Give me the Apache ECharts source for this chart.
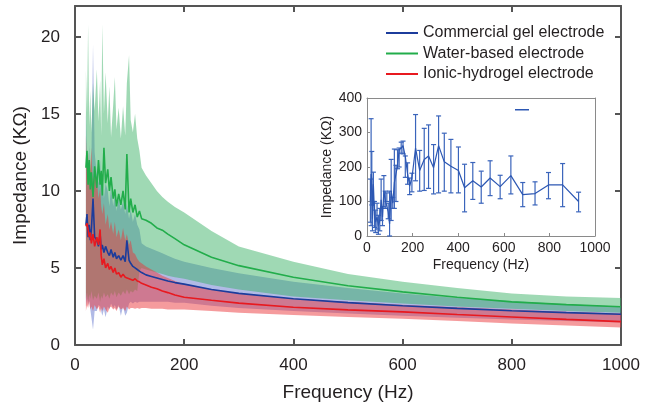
<!DOCTYPE html>
<html>
<head>
<meta charset="utf-8">
<script src="https://cdn.jsdelivr.net/npm/echarts@6/dist/echarts.min.js"></script>
<style>
  html, body { margin: 0; padding: 0; background: #fff; }
  #chart { width: 648px; height: 407px; }
</style>
</head>
<body>
<div id="chart"></div>
<script>
// main plot: frequency (Hz) and impedance (kOhm) bands, mean and upper/lower edge
const freq = [20, 22, 24, 26, 28, 30, 33, 36, 40, 43, 46, 48, 50, 53, 56, 60, 63, 66, 70, 73, 76, 80, 84, 88, 92, 95, 99, 102, 106, 110, 114, 118, 122, 130, 140, 150, 160, 170, 183, 200, 250, 300, 400, 500, 600, 700, 800, 900, 1000];

const waterHi = [17.8, 15.0, 20.8, 14.2, 16.5, 13.8, 17.0, 15.2, 17.9, 14.5, 17.2, 13.6, 20.8, 15.0, 17.7, 14.4, 16.8, 13.5, 15.6, 17.4, 14.0, 15.4, 13.4, 15.5, 13.6, 17.0, 18.8, 14.6, 13.8, 15.0, 13.4, 12.6, 11.5, 11.0, 10.5, 10.0, 9.6, 9.3, 8.95, 8.6, 7.4, 6.4, 5.4, 4.6, 4.1, 3.7, 3.35, 3.15, 3.05];
const waterMid = [11.5, 12.6, 10.4, 12.0, 10.1, 11.2, 9.6, 11.6, 10.2, 12.0, 10.4, 11.3, 9.7, 12.8, 10.5, 11.4, 10.0, 10.9, 9.5, 10.1, 9.0, 9.8, 9.1, 10.0, 8.8, 12.4, 8.6, 9.5, 8.6, 9.1, 8.3, 8.7, 8.2, 8.1, 7.9, 7.6, 7.45, 7.2, 6.9, 6.5, 5.7, 5.15, 4.4, 3.85, 3.45, 3.1, 2.8, 2.62, 2.48];
const waterLo = [3.0, 3.4, 2.8, 3.3, 3.0, 3.5, 2.9, 3.2, 3.0, 3.4, 2.8, 3.2, 3.0, 3.4, 3.1, 3.3, 3.0, 3.4, 3.2, 3.5, 3.1, 3.4, 3.2, 3.5, 3.3, 3.6, 3.3, 3.5, 3.4, 3.6, 3.5, 4.8, 5.0, 4.9, 4.8, 4.7, 4.6, 4.5, 4.4, 4.3, 3.9, 3.6, 3.15, 2.9, 2.7, 2.5, 2.35, 2.2, 2.1];

const gelHi = [15.0, 12.0, 11.0, 13.0, 10.5, 12.0, 19.5, 12.5, 11.0, 10.5, 12.0, 10.0, 11.0, 9.5, 10.5, 10.0, 9.0, 10.2, 9.0, 9.8, 8.7, 9.5, 8.8, 9.3, 8.5, 9.2, 8.2, 8.8, 8.0, 8.5, 7.8, 7.5, 6.6, 6.4, 6.25, 6.1, 5.95, 5.8, 5.6, 5.4, 5.0, 4.65, 4.1, 3.7, 3.35, 3.05, 2.85, 2.65, 2.5];
const gelMid = [7.8, 8.5, 7.0, 7.8, 6.8, 7.5, 9.5, 7.0, 6.8, 6.4, 7.2, 6.2, 6.5, 6.0, 6.4, 6.0, 5.8, 6.2, 5.7, 6.0, 5.6, 5.8, 5.5, 5.8, 5.4, 6.8, 5.5, 5.3, 5.1, 5.0, 4.9, 4.8, 4.7, 4.55, 4.45, 4.35, 4.25, 4.15, 4.05, 3.95, 3.6, 3.35, 3.0, 2.75, 2.55, 2.38, 2.22, 2.1, 2.0];
const gelLo = [2.5, 3.0, 2.6, 2.9, 2.3, 1.8, 1.0, 2.2, 2.2, 2.6, 2.5, 2.2, 1.9, 2.3, 1.8, 2.5, 2.3, 2.7, 2.4, 2.6, 2.3, 2.6, 1.9, 2.5, 1.9, 2.1, 2.7, 2.8, 2.7, 2.8, 2.75, 2.8, 2.8, 2.8, 2.8, 2.8, 2.8, 2.8, 2.75, 2.75, 2.55, 2.4, 2.2, 2.05, 1.9, 1.77, 1.65, 1.55, 1.46];

const ionicHi = [13.6, 11.0, 12.5, 10.5, 11.5, 12.8, 10.0, 11.2, 10.8, 9.5, 10.2, 9.0, 8.5, 9.2, 7.8, 8.5, 7.5, 8.0, 7.2, 8.0, 7.0, 7.5, 6.8, 7.6, 6.8, 7.2, 6.5, 6.8, 6.0, 5.9, 5.6, 5.4, 5.3, 5.1, 4.9, 4.7, 4.5, 4.35, 4.15, 3.95, 3.6, 3.35, 3.0, 2.8, 2.62, 2.45, 2.3, 2.15, 2.05];
const ionicMid = [7.7, 7.9, 7.5, 7.0, 7.3, 6.6, 7.2, 6.4, 7.0, 6.5, 7.5, 5.8, 5.2, 5.6, 5.0, 5.3, 4.9, 5.1, 4.7, 5.0, 4.6, 4.7, 4.4, 4.6, 4.4, 4.5, 4.3, 4.35, 4.2, 4.3, 4.15, 4.1, 4.0, 3.9, 3.75, 3.65, 3.5, 3.4, 3.25, 3.1, 2.9, 2.72, 2.45, 2.28, 2.15, 1.98, 1.82, 1.66, 1.52];
const ionicLo = [2.2, 2.6, 2.4, 2.8, 2.3, 2.5, 2.2, 2.6, 2.3, 2.5, 2.1, 2.4, 2.2, 2.5, 2.3, 2.1, 2.4, 2.5, 2.3, 2.4, 2.2, 2.5, 2.3, 2.4, 2.2, 2.5, 2.3, 2.4, 2.4, 2.35, 2.4, 2.35, 2.4, 2.4, 2.35, 2.35, 2.35, 2.3, 2.3, 2.3, 2.2, 2.1, 1.95, 1.82, 1.7, 1.55, 1.4, 1.27, 1.14];

// inset: frequency (Hz), mean and error-bar ends (kOhm)
const insetFreq = [15, 18, 21, 24, 28, 33, 38, 44, 50, 56, 62, 68, 74, 80, 87, 93, 99, 106, 113, 120, 127, 134, 141, 150, 158, 168, 178, 187, 197, 213, 231, 251, 270, 292, 314, 339, 368, 401, 428, 464, 501, 540, 584, 631, 683, 737, 796, 858, 928];
const insetMean = [100, 180, 165, 50, 150, 60, 40, 55, 30, 45, 105, 55, 130, 105, 110, 70, 35, 130, 95, 155, 150, 205, 250, 255, 262, 230, 180, 145, 168, 255, 190, 222, 232, 198, 262, 215, 202, 190, 140, 160, 142, 168, 143, 175, 120, 123, 148, 148, 100];
const insetLow = [40, 30, 90, 15, 100, 25, 10, 20, 5, 15, 45, 30, 85, 80, 100, 50, 0, 45, 80, 80, 100, 195, 200, 240, 238, 170, 150, 120, 128, 160, 130, 132, 138, 122, 125, 130, 125, 125, 70, 106, 95, 117, 108, 122, 85, 90, 108, 85, 70];
const insetHigh = [165, 340, 245, 90, 185, 100, 75, 95, 60, 80, 165, 85, 175, 130, 125, 95, 130, 222, 112, 252, 205, 250, 255, 272, 275, 232, 212, 168, 182, 352, 248, 312, 322, 265, 348, 298, 280, 258, 208, 213, 188, 218, 176, 232, 155, 157, 184, 210, 127];

const FONT = '"Liberation Sans", Arial, Helvetica, sans-serif';
const TXT = '#231f20';
const AXC = '#555';
const INC = '#8a8a8a';

const pairs = (ys) => freq.map((f, i) => [f, ys[i]]);

// shaded band between lo and hi, drawn as one polygon through the axis scales
function band(key, lo, hi, color) {
  return {
    name: key + '-band', type: 'custom', xAxisIndex: 0, yAxisIndex: 0, silent: true, z: 1,
    data: freq.map((f, i) => [f, lo[i], hi[i]]),
    encode: { x: 0, y: [1, 2] },
    renderItem: (params, api) => {
      if (params.dataIndex !== 0) return null;
      const top = freq.map((f, i) => api.coord([f, hi[i]]));
      const bot = freq.map((f, i) => api.coord([f, lo[i]])).reverse();
      return {
        type: 'polygon',
        shape: { points: top.concat(bot) },
        style: { fill: color, stroke: null }
      };
    }
  };
}

function meanLine(name, ys, color) {
  return {
    name: name, type: 'line', data: pairs(ys), showSymbol: false, symbol: 'none',
    lineStyle: { color: color, width: 1.6 }, itemStyle: { color: color },
    xAxisIndex: 0, yAxisIndex: 0, z: 3
  };
}

// plain mirror axis: line (and optional inward ticks), no labels
function mirror(grid, pos, min, max, interval, color, width, ticks) {
  const ax = {
    gridIndex: grid, type: 'value', min: min, max: max, position: pos,
    axisLine: { show: true, onZero: false, lineStyle: { color: color, width: width } },
    axisTick: ticks ? { show: true, inside: true, length: 6, lineStyle: { color: color, width: width } } : { show: false },
    axisLabel: { show: false }, splitLine: { show: false }
  };
  if (interval) ax.interval = interval;
  return ax;
}

const chart = echarts.init(document.getElementById('chart'));

const option = {
  animation: false,
  textStyle: { fontFamily: FONT, color: TXT },
  grid: [
    { left: 75, right: 27, top: 6, bottom: 59 },
    { left: 367, right: 53, top: 98, bottom: 171 }
  ],
  legend: [
    {
      data: ['Commercial gel electrode', 'Water-based electrode', 'Ionic-hydrogel electrode'],
      orient: 'vertical', left: 381, top: 20, itemGap: 4.5,
      icon: 'rect', itemWidth: 32, itemHeight: 2,
      textStyle: { fontFamily: FONT, fontSize: 16, color: TXT }
    },
    {
      data: ['inset'], left: 510, top: 104, icon: 'rect',
      itemWidth: 14, itemHeight: 1.5, formatter: () => ''
    }
  ],
  xAxis: [
    {
      gridIndex: 0, type: 'value', min: 0, max: 1000, interval: 200, position: 'bottom',
      axisLine: { onZero: false, lineStyle: { color: AXC, width: 2 } },
      axisTick: { inside: true, length: 6, lineStyle: { color: AXC, width: 2 } },
      axisLabel: { fontSize: 17, color: TXT, margin: 12, fontFamily: FONT, formatter: (v) => String(v) },
      splitLine: { show: false },
      name: 'Frequency (Hz)', nameLocation: 'middle', nameGap: 38,
      nameTextStyle: { fontSize: 19, color: TXT, fontFamily: FONT }
    },
    mirror(0, 'top', 0, 1000, 200, AXC, 2, true),
    {
      gridIndex: 1, type: 'value', min: 0, max: 1000, interval: 200, position: 'bottom',
      axisLine: { onZero: false, lineStyle: { color: INC, width: 1 } },
      axisTick: { inside: true, length: 3, lineStyle: { color: INC } },
      axisLabel: { fontSize: 14, color: TXT, margin: 5, fontFamily: FONT, formatter: (v) => String(v) },
      splitLine: { show: false },
      name: 'Frequency (Hz)', nameLocation: 'middle', nameGap: 22,
      nameTextStyle: { fontSize: 14, color: TXT, fontFamily: FONT }
    },
    mirror(1, 'top', 0, 1000, 0, INC, 1, false)
  ],
  yAxis: [
    {
      gridIndex: 0, type: 'value', min: 0, max: 22, interval: 5, position: 'left',
      axisLine: { show: true, onZero: false, lineStyle: { color: AXC, width: 2 } },
      axisTick: { show: true, inside: true, length: 6, lineStyle: { color: AXC, width: 2 } },
      axisLabel: { fontSize: 17, color: TXT, margin: 15, showMaxLabel: false, fontFamily: FONT },
      splitLine: { show: false },
      name: 'Impedance (K\u03A9)', nameLocation: 'middle', nameGap: 32,
      nameTextStyle: { fontSize: 19, color: TXT, fontFamily: FONT }
    },
    mirror(0, 'right', 0, 22, 5, AXC, 2, true),
    {
      gridIndex: 1, type: 'value', min: 0, max: 400, interval: 100, position: 'left',
      axisLine: { show: true, onZero: false, lineStyle: { color: INC, width: 1 } },
      axisTick: { show: true, inside: true, length: 3, lineStyle: { color: INC } },
      axisLabel: { fontSize: 14, color: TXT, margin: 5, fontFamily: FONT },
      splitLine: { show: false },
      name: 'Impedance (K\u03A9)', nameLocation: 'middle', nameGap: 33,
      nameTextStyle: { fontSize: 14, color: TXT, fontFamily: FONT }
    },
    mirror(1, 'right', 0, 400, 0, INC, 1, false)
  ],
  series: [
    band('gel', gelLo, gelHi, 'rgba(70,90,195,0.42)'),
    band('water', waterLo, waterHi, 'rgba(50,175,95,0.47)'),
    band('ionic', ionicLo, ionicHi, 'rgba(235,55,60,0.5)'),
    meanLine('Water-based electrode', waterMid, '#22ad4b'),
    meanLine('Commercial gel electrode', gelMid, '#1c3c9c'),
    meanLine('Ionic-hydrogel electrode', ionicMid, '#e8191f'),
    {
      name: 'inset', type: 'line', xAxisIndex: 2, yAxisIndex: 2,
      data: insetFreq.map((f, i) => [f, insetMean[i]]),
      showSymbol: false, symbol: 'none',
      lineStyle: { color: '#2c57b3', width: 1.2 }, itemStyle: { color: '#2c57b3' }, z: 6
    },
    {
      name: 'inset-err', type: 'custom', xAxisIndex: 2, yAxisIndex: 2, z: 6, silent: true,
      data: insetFreq.map((f, i) => [f, insetLow[i], insetHigh[i]]),
      encode: { x: 0, y: [1, 2] },
      renderItem: (params, api) => {
        const lo = api.coord([api.value(0), api.value(1)]);
        const hi = api.coord([api.value(0), api.value(2)]);
        const w = 2.5;
        const st = { stroke: '#3a64bb', lineWidth: 1.2 };
        return {
          type: 'group',
          children: [
            { type: 'line', shape: { x1: lo[0], y1: lo[1], x2: hi[0], y2: hi[1] }, style: st },
            { type: 'line', shape: { x1: hi[0] - w, y1: hi[1], x2: hi[0] + w, y2: hi[1] }, style: st },
            { type: 'line', shape: { x1: lo[0] - w, y1: lo[1], x2: lo[0] + w, y2: lo[1] }, style: st }
          ]
        };
      }
    }
  ]
};

chart.setOption(option);
</script>
</body>
</html>
